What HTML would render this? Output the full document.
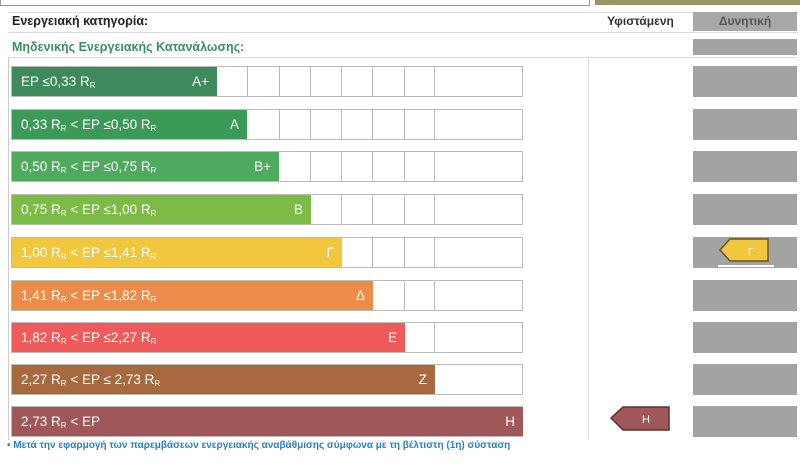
<!DOCTYPE html>
<html><head><meta charset="utf-8"><style>
body{margin:0;width:800px;height:471px;background:#fff;position:relative;overflow:hidden;font-family:"Liberation Sans","DejaVu Sans",sans-serif}
div{position:absolute;box-sizing:border-box}
.row{left:11px;width:512px;height:31px;border:1px solid #bbb;background:#fff}
.c{top:0;height:100%;border-left:1px solid #bbb}
.bar{left:0;top:0;height:100%;color:#fff;font-size:13.5px;line-height:29px;padding-left:9px}
.bar b{position:absolute;right:8px;top:0;font-weight:normal}
.bar sub{font-size:8px;vertical-align:-2px}
.g{left:693px;width:104px;height:31px;background:#a3a3a3}
.line{height:1px;background:#ddd}
</style></head><body>
<div style="left:0;top:0;width:590px;height:6px;border:1px solid #999;border-top:none"></div>
<div style="left:595px;top:0;width:205px;height:5px;background:#9c9467"></div>
<div class="line" style="left:8px;top:12px;width:790px"></div>
<div style="left:12px;top:14px;font-size:12.5px;font-weight:bold;color:#222">Ενεργειακή κατηγορία:</div>
<div style="left:588px;top:14px;width:105px;text-align:center;font-size:12px;font-weight:bold;color:#333">Υφιστάμενη</div>
<div style="left:693px;top:12px;width:104px;height:19px;background:#a8a8a8;text-align:center;font-size:12px;font-weight:bold;color:#555;padding-top:2px">Δυνητική</div>
<div class="line" style="left:8px;top:32px;width:790px"></div>
<div style="left:12px;top:40px;font-size:12.5px;font-weight:bold;color:#3d8f5f">Μηδενικής Ενεργειακής Κατανάλωσης:</div>
<div style="left:693px;top:39px;width:104px;height:16px;background:#a3a3a3"></div>
<div class="line" style="left:8px;top:57px;width:790px"></div>
<div style="left:588px;top:57px;width:1px;height:383px;background:#ddd"></div>
<div style="left:8px;top:57px;width:1px;height:383px;background:#ccc"></div>

<div class="row" style="top:66px"><div class="c" style="left:235px"></div><div class="c" style="left:267px"></div><div class="c" style="left:298px"></div><div class="c" style="left:329px"></div><div class="c" style="left:360px"></div><div class="c" style="left:392px"></div><div class="c" style="left:422px"></div><div class="bar" style="width:205px;background:#3f8a5c">EP ≤0,33 R<sub>R</sub><b>A+</b></div></div>
<div class="row" style="top:109px"><div class="c" style="left:267px"></div><div class="c" style="left:298px"></div><div class="c" style="left:329px"></div><div class="c" style="left:360px"></div><div class="c" style="left:392px"></div><div class="c" style="left:422px"></div><div class="bar" style="width:235px;background:#3b9a57">0,33 R<sub>R</sub> &lt; EP ≤0,50 R<sub>R</sub><b>A</b></div></div>
<div class="row" style="top:151px"><div class="c" style="left:298px"></div><div class="c" style="left:329px"></div><div class="c" style="left:360px"></div><div class="c" style="left:392px"></div><div class="c" style="left:422px"></div><div class="bar" style="width:267px;background:#4eaa5c">0,50 R<sub>R</sub> &lt; EP ≤0,75 R<sub>R</sub><b>B+</b></div></div>
<div class="row" style="top:194px"><div class="c" style="left:329px"></div><div class="c" style="left:360px"></div><div class="c" style="left:392px"></div><div class="c" style="left:422px"></div><div class="bar" style="width:299px;background:#7dbb47">0,75 R<sub>R</sub> &lt; EP ≤1,00 R<sub>R</sub><b>B</b></div></div>
<div class="row" style="top:237px"><div class="c" style="left:360px"></div><div class="c" style="left:392px"></div><div class="c" style="left:422px"></div><div class="bar" style="width:330px;background:#f1c73e">1,00 R<sub>R</sub> &lt; EP ≤1,41 R<sub>R</sub><b>Γ</b></div></div>
<div class="row" style="top:280px"><div class="c" style="left:392px"></div><div class="c" style="left:422px"></div><div class="bar" style="width:361px;background:#ec8c48">1,41 R<sub>R</sub> &lt; EP ≤1,82 R<sub>R</sub><b>Δ</b></div></div>
<div class="row" style="top:322px"><div class="c" style="left:422px"></div><div class="bar" style="width:393px;background:#ee5b5a">1,82 R<sub>R</sub> &lt; EP ≤2,27 R<sub>R</sub><b>E</b></div></div>
<div class="row" style="top:364px"><div class="bar" style="width:423px;background:#a9693e">2,27 R<sub>R</sub> &lt;  EP ≤ 2,73 R<sub>R</sub><b>Z</b></div></div>
<div class="row" style="top:406px"><div class="bar" style="width:511px;background:#a0575a">2,73 R<sub>R</sub> &lt; EP<b>H</b></div></div>

<div class="g" style="top:66px"></div><div class="g" style="top:109px"></div><div class="g" style="top:151px"></div><div class="g" style="top:194px"></div><div class="g" style="top:237px"></div><div class="g" style="top:280px"></div><div class="g" style="top:322px"></div><div class="g" style="top:364px"></div><div class="g" style="top:406px"></div>

<svg style="position:absolute;left:718px;top:238px" width="56" height="32"><polygon points="2,12 12,1 50,1 50,23 12,23" fill="#f1c73e" stroke="#6b5520" stroke-width="1.5"/><text x="30" y="17" font-size="10" fill="#fff" font-family="Liberation Sans">Γ</text><rect x="0" y="27" width="56" height="2" fill="#fff"/></svg>
<svg style="position:absolute;left:609px;top:405px" width="62" height="28"><polygon points="2,13 14,2 60,2 60,25 14,25" fill="#a0575a" stroke="#5a3030" stroke-width="1.5"/><text x="33" y="18" font-size="11" fill="#fff" font-family="Liberation Sans">H</text></svg>

<div style="left:7px;top:440px;font-size:10px;font-weight:bold;color:#2a80c0;white-space:nowrap">• Μετά την εφαρμογή των παρεμβάσεων ενεργειακής αναβάθμισης σύμφωνα με τη βέλτιστη (1η) σύσταση</div>
</body></html>
